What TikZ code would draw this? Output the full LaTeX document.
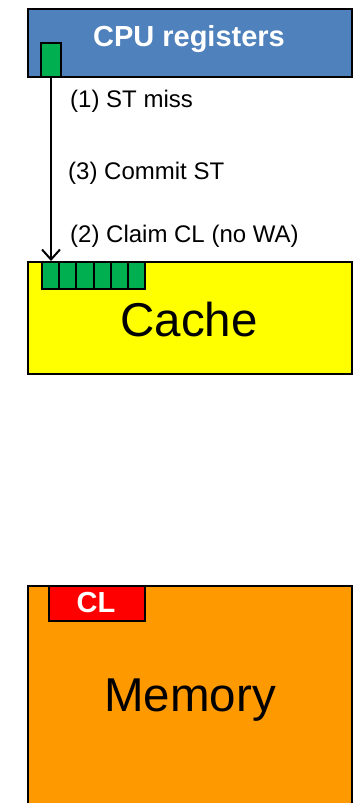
\documentclass[tikz,border=0pt]{standalone}
\usepackage{fontspec}
\setmainfont{Liberation Sans}
\usetikzlibrary{arrows.meta}
\definecolor{regblue}{HTML}{4F81BD}
\definecolor{bitgreen}{HTML}{00B050}
\definecolor{memorange}{HTML}{FF9900}
\definecolor{cacheyellow}{HTML}{FFFF00}
\tikzset{
  unit/.style={draw=black, line width=2.4pt, inner sep=0pt, anchor=north west},
  bit/.style={draw=black, line width=2pt, fill=bitgreen, inner sep=0pt, anchor=north west, minimum width=17.2pt, minimum height=27pt},
  step label/.style={anchor=west, inner sep=0pt, font=\fontsize{24}{27}\selectfont}
}

\begin{document}
\begin{tikzpicture}[x=1pt,y=-1pt]
\useasboundingbox (0,0) rectangle (357,803);
% CPU
\node[unit, fill=regblue, minimum width=324pt, minimum height=68pt] (cpu) at (27,8) {};
\node[text=white, font=\bfseries\fontsize{29}{32}\selectfont] (cpulbl) at (189,39) {CPU registers};
\node[bit, minimum width=20pt, minimum height=34pt] (regbit) at (40,42) {};
% Cache
\node[unit, fill=cacheyellow, minimum width=324pt, minimum height=112pt] (cache) at (27,261) {};
\node[font=\fontsize{47.5}{52}\selectfont] (cachelbl) at (189,320) {Cache};
\foreach \i in {0,...,5}
  \node[bit] (cell\i) at (41+\i*17.2,261) {};
% Memory
\node[unit, fill=memorange, minimum width=324pt, minimum height=225pt] (mem) at (27,585) {};
\node[font=\fontsize{47.5}{52}\selectfont] (memlbl) at (190,700) {Memory};
\node[unit, fill=red, line width=2pt, minimum width=96pt, minimum height=35pt] (cl) at (48,585) {};
\node[text=white, font=\bfseries\fontsize{29}{32}\selectfont] (cllbl) at (96,603) {CL};
% store path
\draw[line width=2pt, -{Straight Barb[length=10pt, width=18pt, line width=2pt]}] (regbit.south) -- (regbit.south |- cache.north);
\node[step label] (s1) at (70,101) {(1) ST miss};
\node[step label] (s3) at (68,173) {(3) Commit ST};
\node[step label] (s2) at (70,236) {(2) Claim CL (no WA)};
\end{tikzpicture}
\end{document}
